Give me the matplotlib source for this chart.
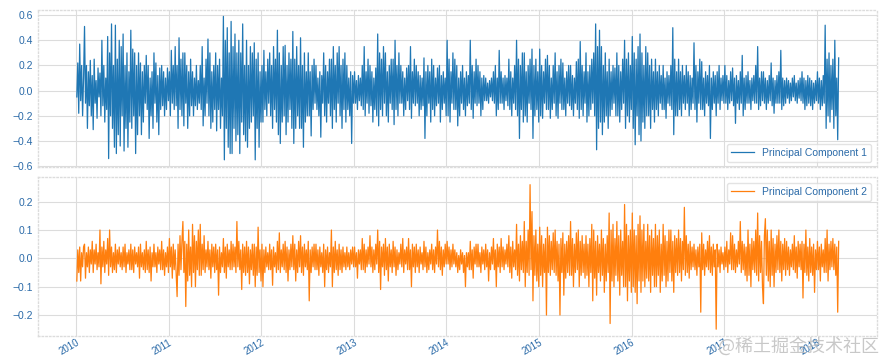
import pandas as pd
import matplotlib
matplotlib.use('Agg')
import matplotlib.pyplot as plt

# значения главных компонент, по 8 точек на месяц (янв 2010 - мар 2018)
pc1_2010 = [
    -0.05, 0.22, -0.18, 0.37, -0.08, 0.2, -0.2, 0.1,
    0.51, -0.1, 0.2, -0.3, 0.15, -0.12, 0.24, -0.2,
    0.12, -0.31, 0.25, -0.1, 0.08, -0.22, 0.18, -0.05,
    0.14, -0.2, 0.4, -0.12, 0.2, -0.25, 0.1, -0.15,
    0.43, -0.54, 0.3, -0.2, 0.53, -0.3, 0.2, -0.45,
    0.52, -0.5, 0.25, -0.35, 0.4, -0.44, 0.35, -0.2,
    0.45, -0.48, 0.2, -0.3, 0.3, -0.45, 0.15, -0.25,
    0.48, -0.3, 0.33, -0.2, 0.3, -0.5, 0.2, -0.35,
    0.3, -0.2, 0.22, -0.35, 0.15, -0.25, 0.2, -0.1,
    0.28, -0.15, 0.2, -0.38, 0.1, -0.2, 0.15, -0.3,
    0.3, -0.1, 0.22, -0.25, 0.12, -0.35, 0.18, -0.15,
    0.2, -0.12, 0.15, -0.2, 0.1, -0.15, 0.18, -0.08,
]
pc1_2011 = [
    0.15, -0.2, 0.32, -0.1, 0.2, -0.15, 0.35, -0.12,
    0.2, -0.3, 0.42, -0.15, 0.25, -0.2, 0.3, -0.28,
    0.3, -0.1, 0.2, -0.3, 0.15, -0.2, 0.25, -0.12,
    0.15, -0.2, 0.1, -0.12, 0.2, -0.15, 0.08, -0.1,
    0.2, -0.15, 0.35, -0.28, 0.1, -0.2, 0.25, -0.1,
    0.41, -0.2, 0.3, -0.3, 0.15, -0.25, 0.2, -0.15,
    0.3, -0.32, 0.2, -0.15, 0.25, -0.3, 0.1, -0.2,
    0.59, -0.55, 0.4, -0.3, 0.5, -0.45, 0.3, -0.5,
    0.55, -0.5, 0.35, -0.3, 0.45, -0.4, 0.3, -0.35,
    0.4, -0.5, 0.3, -0.25, 0.53, -0.35, 0.2, -0.4,
    0.4, -0.45, 0.2, -0.3, 0.35, -0.25, 0.3, -0.2,
    0.38, -0.55, 0.25, -0.3, 0.3, -0.45, 0.15, -0.25,
]
pc1_2012 = [
    0.2, -0.25, 0.32, -0.15, 0.15, -0.2, 0.25, -0.1,
    0.3, -0.2, 0.2, -0.3, 0.35, -0.15, 0.25, -0.25,
    0.48, -0.35, 0.3, -0.42, 0.2, -0.25, 0.35, -0.2,
    0.36, -0.35, 0.2, -0.25, 0.3, -0.15, 0.25, -0.3,
    0.47, -0.42, 0.25, -0.3, 0.35, -0.2, 0.2, -0.3,
    0.42, -0.3, 0.2, -0.45, 0.3, -0.25, 0.15, -0.2,
    0.3, -0.2, 0.15, -0.36, 0.2, -0.15, 0.25, -0.1,
    0.2, -0.15, 0.1, -0.2, 0.15, -0.37, 0.12, -0.1,
    0.3, -0.2, 0.2, -0.25, 0.15, -0.1, 0.25, -0.2,
    0.25, -0.3, 0.35, -0.15, 0.2, -0.25, 0.3, -0.1,
    0.35, -0.2, 0.2, -0.3, 0.25, -0.15, 0.3, -0.25,
    0.2, -0.15, 0.1, -0.2, 0.15, -0.42, 0.12, -0.1,
]
pc1_2013 = [
    0.15, -0.1, 0.08, -0.15, 0.12, -0.08, 0.1, -0.12,
    0.2, -0.15, 0.35, -0.2, 0.15, -0.1, 0.25, -0.18,
    0.2, -0.12, 0.15, -0.25, 0.1, -0.15, 0.18, -0.2,
    0.45, -0.28, 0.3, -0.15, 0.25, -0.2, 0.35, -0.1,
    0.3, -0.2, 0.15, -0.25, 0.2, -0.1, 0.25, -0.15,
    0.25, -0.27, 0.4, -0.15, 0.2, -0.2, 0.3, -0.1,
    0.2, -0.1, 0.15, -0.2, 0.1, -0.15, 0.18, -0.08,
    0.2, -0.15, 0.35, -0.22, 0.15, -0.1, 0.25, -0.12,
    0.2, -0.1, 0.15, -0.2, 0.12, -0.15, 0.1, -0.12,
    0.26, -0.38, 0.15, -0.2, 0.2, -0.1, 0.15, -0.25,
    0.25, -0.15, 0.2, -0.2, 0.1, -0.12, 0.18, -0.1,
    0.2, -0.25, 0.12, -0.15, 0.15, -0.1, 0.1, -0.2,
]
pc1_2014 = [
    0.4, -0.2, 0.25, -0.25, 0.15, -0.1, 0.3, -0.15,
    0.25, -0.15, 0.2, -0.28, 0.1, -0.2, 0.15, -0.1,
    0.2, -0.15, 0.1, -0.2, 0.15, -0.12, 0.12, -0.1,
    0.4, -0.15, 0.2, -0.22, 0.15, -0.1, 0.25, -0.12,
    0.2, -0.1, 0.15, -0.2, 0.1, -0.15, 0.12, -0.08,
    0.1, -0.08, 0.06, -0.1, 0.08, -0.05, 0.1, -0.08,
    0.15, -0.1, 0.2, -0.2, 0.1, -0.15, 0.32, -0.1,
    0.15, -0.1, 0.1, -0.15, 0.12, -0.08, 0.1, -0.12,
    0.25, -0.15, 0.15, -0.2, 0.1, -0.1, 0.2, -0.15,
    0.4, -0.2, 0.25, -0.38, 0.2, -0.15, 0.3, -0.25,
    0.3, -0.2, 0.15, -0.25, 0.2, -0.1, 0.25, -0.15,
    0.33, -0.38, 0.2, -0.2, 0.25, -0.15, 0.15, -0.25,
]
pc1_2015 = [
    0.33, -0.2, 0.2, -0.22, 0.15, -0.1, 0.25, -0.15,
    0.28, -0.15, 0.2, -0.22, 0.1, -0.15, 0.2, -0.1,
    0.3, -0.2, 0.15, -0.22, 0.2, -0.1, 0.25, -0.15,
    0.22, -0.15, 0.1, -0.2, 0.15, -0.1, 0.2, -0.12,
    0.2, -0.15, 0.12, -0.2, 0.1, -0.1, 0.23, -0.15,
    0.25, -0.22, 0.39, -0.15, 0.2, -0.2, 0.15, -0.1,
    0.3, -0.25, 0.15, -0.2, 0.2, -0.15, 0.25, -0.1,
    0.3, -0.2, 0.53, -0.47, 0.35, -0.3, 0.48, -0.25,
    0.35, -0.35, 0.2, -0.25, 0.3, -0.2, 0.15, -0.3,
    0.25, -0.2, 0.15, -0.15, 0.2, -0.1, 0.18, -0.2,
    0.3, -0.2, 0.2, -0.25, 0.15, -0.15, 0.25, -0.1,
    0.4, -0.3, 0.25, -0.2, 0.3, -0.25, 0.2, -0.15,
]
pc1_2016 = [
    0.43, -0.3, 0.3, -0.43, 0.25, -0.2, 0.35, -0.35,
    0.45, -0.4, 0.3, -0.25, 0.2, -0.3, 0.35, -0.2,
    0.3, -0.2, 0.2, -0.3, 0.25, -0.15, 0.15, -0.25,
    0.25, -0.15, 0.15, -0.2, 0.2, -0.1, 0.12, -0.15,
    0.2, -0.15, 0.1, -0.22, 0.15, -0.1, 0.12, -0.12,
    0.2, -0.15, 0.5, -0.35, 0.25, -0.2, 0.15, -0.2,
    0.25, -0.15, 0.15, -0.2, 0.2, -0.1, 0.12, -0.15,
    0.2, -0.1, 0.15, -0.2, 0.12, -0.15, 0.1, -0.1,
    0.38, -0.15, 0.2, -0.25, 0.15, -0.1, 0.25, -0.15,
    0.23, -0.15, 0.1, -0.2, 0.15, -0.1, 0.12, -0.12,
    0.2, -0.38, 0.1, -0.15, 0.15, -0.1, 0.12, -0.2,
    0.15, -0.1, 0.2, -0.15, 0.1, -0.08, 0.12, -0.1,
]
pc1_2017 = [
    0.2, -0.1, 0.12, -0.15, 0.08, -0.1, 0.15, -0.08,
    0.18, -0.12, 0.1, -0.26, 0.12, -0.1, 0.08, -0.15,
    0.15, -0.1, 0.28, -0.2, 0.1, -0.15, 0.12, -0.1,
    0.15, -0.1, 0.08, -0.15, 0.1, -0.08, 0.12, -0.1,
    0.2, -0.1, 0.35, -0.15, 0.1, -0.12, 0.15, -0.08,
    0.15, -0.1, 0.1, -0.15, 0.08, -0.1, 0.12, -0.08,
    0.22, -0.12, 0.1, -0.18, 0.08, -0.1, 0.12, -0.1,
    0.15, -0.1, 0.32, -0.15, 0.1, -0.12, 0.08, -0.1,
    0.1, -0.06, 0.08, -0.1, 0.06, -0.08, 0.1, -0.05,
    0.12, -0.08, 0.06, -0.1, 0.08, -0.06, 0.1, -0.08,
    0.15, -0.1, 0.1, -0.15, 0.08, -0.12, 0.12, -0.1,
    0.1, -0.12, 0.08, -0.15, 0.06, -0.1, 0.08, -0.08,
]
pc1_2018 = [
    0.15, -0.1, 0.1, -0.15, 0.08, -0.12, 0.12, -0.1,
    0.52, -0.3, 0.25, -0.2, 0.3, -0.25, 0.2, -0.15,
    0.25, -0.3, 0.4, -0.2, 0.1, -0.39, 0.26,
]

pc2_2010 = [
    -0.08, 0.03, -0.05, 0.04, -0.08, 0.02, -0.03, 0.04,
    0.05, -0.07, 0.02, -0.03, 0.04, -0.05, 0.03, -0.02,
    0.06, -0.05, 0.03, -0.02, 0.05, -0.04, 0.02, -0.03,
    0.1, -0.09, 0.04, -0.03, 0.06, -0.05, 0.03, -0.02,
    0.07, -0.06, 0.1, -0.03, 0.04, -0.05, 0.02, -0.04,
    0.05, -0.05, 0.03, -0.02, 0.04, -0.03, 0.02, -0.04,
    0.04, -0.03, 0.05, -0.05, 0.02, -0.02, 0.03, -0.04,
    0.05, -0.04, 0.03, -0.05, 0.04, -0.02, 0.02, -0.03,
    0.04, -0.07, 0.05, -0.03, 0.02, -0.04, 0.03, -0.05,
    0.06, -0.04, 0.03, -0.05, 0.04, -0.08, 0.02, -0.03,
    0.05, -0.03, 0.02, -0.05, 0.04, -0.02, 0.03, -0.04,
    0.06, -0.04, 0.03, -0.06, 0.02, -0.03, 0.04, -0.05,
]
pc2_2011 = [
    0.07, -0.03, 0.04, -0.07, 0.05, -0.04, 0.03, -0.05,
    -0.135, 0.05, -0.06, 0.08, -0.04, 0.06, 0.13, -0.05,
    0.06, -0.17, 0.05, -0.08, 0.1, -0.06, 0.04, -0.1,
    0.12, -0.05, 0.08, -0.1, 0.06, -0.04, 0.1, -0.06,
    0.12, -0.06, 0.05, -0.04, 0.08, -0.05, 0.03, -0.03,
    0.06, -0.04, 0.03, -0.07, 0.05, -0.03, 0.04, -0.05,
    0.05, -0.04, 0.03, -0.13, 0.04, -0.05, 0.02, -0.03,
    0.07, -0.05, 0.04, -0.07, 0.05, -0.03, 0.03, -0.04,
    0.06, -0.04, 0.05, -0.03, 0.04, -0.05, 0.13, -0.03,
    0.06, -0.04, 0.03, -0.11, 0.05, -0.05, 0.04, -0.06,
    0.06, -0.05, 0.04, -0.09, 0.03, -0.04, 0.05, -0.06,
    0.05, -0.1, 0.04, -0.06, 0.11, -0.05, 0.03, -0.08,
]
pc2_2012 = [
    0.05, -0.1, 0.03, -0.05, 0.04, -0.03, 0.02, -0.04,
    0.05, -0.04, 0.03, -0.095, 0.04, -0.03, 0.02, -0.05,
    0.06, -0.04, 0.09, -0.05, 0.03, -0.03, 0.05, -0.04,
    0.06, -0.05, 0.04, -0.08, 0.03, -0.04, 0.05, -0.03,
    0.08, -0.04, 0.05, -0.08, 0.03, -0.05, 0.06, -0.03,
    0.08, -0.05, 0.04, -0.06, 0.05, -0.03, 0.03, -0.04,
    0.06, -0.15, 0.03, -0.05, 0.04, -0.03, 0.05, -0.04,
    0.05, -0.04, 0.03, -0.06, 0.04, -0.03, 0.02, -0.05,
    0.05, -0.1, 0.03, -0.04, 0.04, -0.05, 0.02, -0.03,
    0.1, -0.1, 0.04, -0.05, 0.06, -0.04, 0.03, -0.06,
    0.05, -0.04, 0.03, -0.05, 0.04, -0.03, 0.02, -0.04,
    0.04, -0.03, 0.02, -0.04, 0.03, -0.02, 0.04, -0.03,
]
pc2_2013 = [
    0.04, -0.03, 0.02, -0.07, 0.03, -0.02, 0.03, -0.04,
    0.07, -0.04, 0.05, -0.05, 0.03, -0.03, 0.04, -0.02,
    0.08, -0.03, 0.04, -0.05, 0.03, -0.04, 0.05, -0.02,
    0.1, -0.05, 0.06, -0.11, 0.04, -0.03, 0.05, -0.06,
    0.07, -0.04, 0.04, -0.08, 0.05, -0.03, 0.03, -0.05,
    0.06, -0.03, 0.04, -0.06, 0.03, -0.04, 0.02, -0.02,
    0.05, -0.03, 0.07, -0.05, 0.03, -0.02, 0.04, -0.04,
    0.07, -0.04, 0.03, -0.1, 0.05, -0.03, 0.04, -0.05,
    0.05, -0.03, 0.03, -0.05, 0.04, -0.02, 0.02, -0.04,
    0.06, -0.03, 0.04, -0.05, 0.02, -0.04, 0.03, -0.02,
    0.05, -0.04, 0.03, -0.05, 0.04, -0.02, 0.1, -0.03,
    0.06, -0.04, 0.04, -0.06, 0.03, -0.03, 0.05, -0.02,
]
pc2_2014 = [
    0.06, -0.02, 0.04, -0.04, 0.03, -0.03, 0.05, -0.02,
    0.03, -0.03, 0.02, -0.05, 0.01, -0.04, 0.03, -0.02,
    0.02, -0.05, 0.01, -0.1, 0.02, -0.03, 0.02, -0.04,
    0.06, -0.04, 0.03, -0.07, 0.04, -0.02, 0.05, -0.03,
    0.05, -0.03, 0.02, -0.05, 0.04, -0.02, 0.03, -0.04,
    0.05, -0.03, 0.03, -0.08, 0.02, -0.04, 0.04, -0.02,
    0.07, -0.04, 0.03, -0.1, 0.05, -0.03, 0.04, -0.05,
    0.07, -0.03, 0.04, -0.04, 0.03, -0.02, 0.05, -0.03,
    0.08, -0.05, 0.04, -0.07, 0.06, -0.03, 0.03, -0.04,
    0.12, -0.06, 0.05, -0.08, 0.08, -0.04, 0.06, -0.05,
    0.13, -0.1, 0.06, -0.05, 0.1, -0.06, 0.26, -0.04,
    0.165, -0.15, 0.08, -0.06, 0.1, -0.08, 0.05, -0.1,
]
pc2_2015 = [
    0.11, -0.06, 0.08, -0.1, 0.05, -0.05, 0.07, -0.2,
    0.11, -0.05, 0.08, -0.06, 0.06, -0.04, 0.09, -0.05,
    0.1, -0.06, 0.06, -0.08, 0.05, -0.2, 0.07, -0.05,
    0.09, -0.13, 0.05, -0.07, 0.06, -0.05, 0.08, -0.06,
    0.13, -0.06, 0.07, -0.1, 0.05, -0.05, 0.09, -0.04,
    0.1, -0.1, 0.06, -0.06, 0.08, -0.05, 0.05, -0.07,
    0.08, -0.06, 0.05, -0.1, 0.07, -0.05, 0.12, -0.15,
    0.1, -0.07, 0.06, -0.13, 0.08, -0.05, 0.05, -0.08,
    0.1, -0.06, 0.07, -0.12, 0.05, -0.08, 0.08, -0.05,
    0.16, -0.23, 0.1, -0.08, 0.12, -0.1, 0.07, -0.06,
    0.13, -0.08, 0.08, -0.13, 0.1, -0.06, 0.06, -0.1,
    0.19, -0.1, 0.12, -0.15, 0.08, -0.08, 0.1, -0.12,
]
pc2_2016 = [
    0.16, -0.1, 0.1, -0.12, 0.08, -0.16, 0.12, -0.08,
    0.15, -0.12, 0.1, -0.08, 0.12, -0.1, 0.06, -0.07,
    0.12, -0.08, 0.08, -0.12, 0.1, -0.06, 0.07, -0.1,
    0.12, -0.1, 0.08, -0.06, 0.1, -0.12, 0.05, -0.08,
    0.12, -0.06, 0.08, -0.1, 0.06, -0.08, 0.1, -0.05,
    0.1, -0.08, 0.06, -0.12, 0.08, -0.05, 0.07, -0.06,
    0.1, -0.05, 0.07, -0.08, 0.06, -0.04, 0.18, -0.06,
    0.08, -0.05, 0.05, -0.07, 0.06, -0.04, 0.04, -0.03,
    0.05, -0.04, 0.03, -0.06, 0.04, -0.03, 0.05, -0.19,
    0.09, -0.04, 0.05, -0.06, 0.03, -0.03, 0.06, -0.04,
    0.08, -0.05, 0.04, -0.06, 0.05, -0.03, 0.03, -0.25,
    0.05, -0.03, 0.03, -0.05, 0.04, -0.02, 0.02, -0.04,
]
pc2_2017 = [
    0.04, -0.03, 0.06, -0.05, 0.03, -0.02, 0.09, -0.04,
    0.08, -0.04, 0.05, -0.05, 0.03, -0.03, 0.06, -0.02,
    0.13, -0.05, 0.06, -0.04, 0.05, -0.06, 0.04, -0.08,
    0.1, -0.06, 0.05, -0.1, 0.07, -0.04, 0.06, -0.05,
    0.1, -0.06, 0.16, -0.08, 0.08, -0.05, 0.06, -0.1,
    -0.16, 0.08, 0.14, -0.06, 0.1, -0.08, 0.06, -0.1,
    0.1, -0.06, 0.07, -0.1, 0.05, -0.05, 0.08, -0.04,
    0.1, -0.05, 0.06, -0.08, 0.05, -0.04, 0.07, -0.06,
    0.06, -0.04, 0.04, -0.06, 0.03, -0.03, 0.05, -0.04,
    0.08, -0.05, 0.04, -0.07, 0.06, -0.03, 0.05, -0.04,
    0.06, -0.14, 0.05, -0.05, 0.1, -0.06, 0.04, -0.08,
    0.07, -0.05, 0.04, -0.06, 0.05, -0.12, 0.03, -0.04,
]
pc2_2018 = [
    0.06, -0.04, 0.04, -0.08, 0.05, -0.03, 0.03, -0.05,
    0.07, -0.05, 0.1, -0.08, 0.05, -0.04, 0.06, -0.03,
    0.07, -0.04, 0.05, -0.06, 0.04, -0.19, 0.06,
]

pc1 = (pc1_2010 + pc1_2011 + pc1_2012 + pc1_2013 + pc1_2014
       + pc1_2015 + pc1_2016 + pc1_2017 + pc1_2018)
pc2 = (pc2_2010 + pc2_2011 + pc2_2012 + pc2_2013 + pc2_2014
       + pc2_2015 + pc2_2016 + pc2_2017 + pc2_2018)

dates = pd.date_range('2010-01-04', '2018-03-28', periods=len(pc1))
df = pd.DataFrame({'Principal Component 1': pc1,
                   'Principal Component 2': pc2}, index=dates)

text_color = '#2a6aa8'
grid_color = '#dcdcdc'
plt.rcParams['font.family'] = ['Liberation Sans', 'DejaVu Sans']

fig = plt.figure(figsize=(8.86, 3.6), dpi=100)
ax1 = fig.add_axes([0.0432, 0.535, 0.9463, 0.437])
ax2 = fig.add_axes([0.0432, 0.0667, 0.9463, 0.4408], sharex=ax1)

ax1.plot(df.index, df['Principal Component 1'], color='#1f77b4', lw=0.9,
         label='Principal Component 1')
ax2.plot(df.index, df['Principal Component 2'], color='#ff7f0e', lw=0.9,
         label='Principal Component 2')

for ax in (ax1, ax2):
    ax.grid(True, color=grid_color, lw=0.8)
    ax.set_axisbelow(True)
    for s in ax.spines.values():
        s.set_color(grid_color)
        s.set_linestyle(':')
        s.set_linewidth(1.0)
    ax.tick_params(axis='y', length=0, labelsize=7.5, labelcolor=text_color, pad=4)
    ax.tick_params(axis='x', length=0, labelsize=7, labelcolor=text_color, pad=1)

ax1.set_yticks([-0.6, -0.4, -0.2, 0.0, 0.2, 0.4, 0.6])
ax2.set_yticks([-0.2, -0.1, 0.0, 0.1, 0.2])
ax1.set_ylim(-0.61, 0.64)
ax2.set_ylim(-0.274, 0.286)
ax1.set_xlim(pd.Timestamp('2009-08-05'), pd.Timestamp('2018-08-25'))

plt.setp(ax1.get_xticklabels(), visible=False)
for lab in ax2.get_xticklabels():
    lab.set_rotation(30)
    lab.set_ha('right')
    lab.set_rotation_mode('anchor')

leg1 = ax1.legend(loc='lower right', fontsize=7.5, frameon=True, fancybox=True,
                  edgecolor=grid_color, handlelength=2.2)
leg2 = ax2.legend(loc='upper right', fontsize=7.5, frameon=True, fancybox=True,
                  edgecolor=grid_color, handlelength=2.2)
for leg in (leg1, leg2):
    for t in leg.get_texts():
        t.set_color(text_color)

fig.text(0.992, 0.012, '@稀土掘金技术社区', ha='right', va='bottom',
         fontsize=13, color='#bbbbbb', alpha=0.8,
         family=['Noto Sans CJK SC', 'DejaVu Sans'])

fig.savefig('out.png', dpi=100)
plt.close(fig)
